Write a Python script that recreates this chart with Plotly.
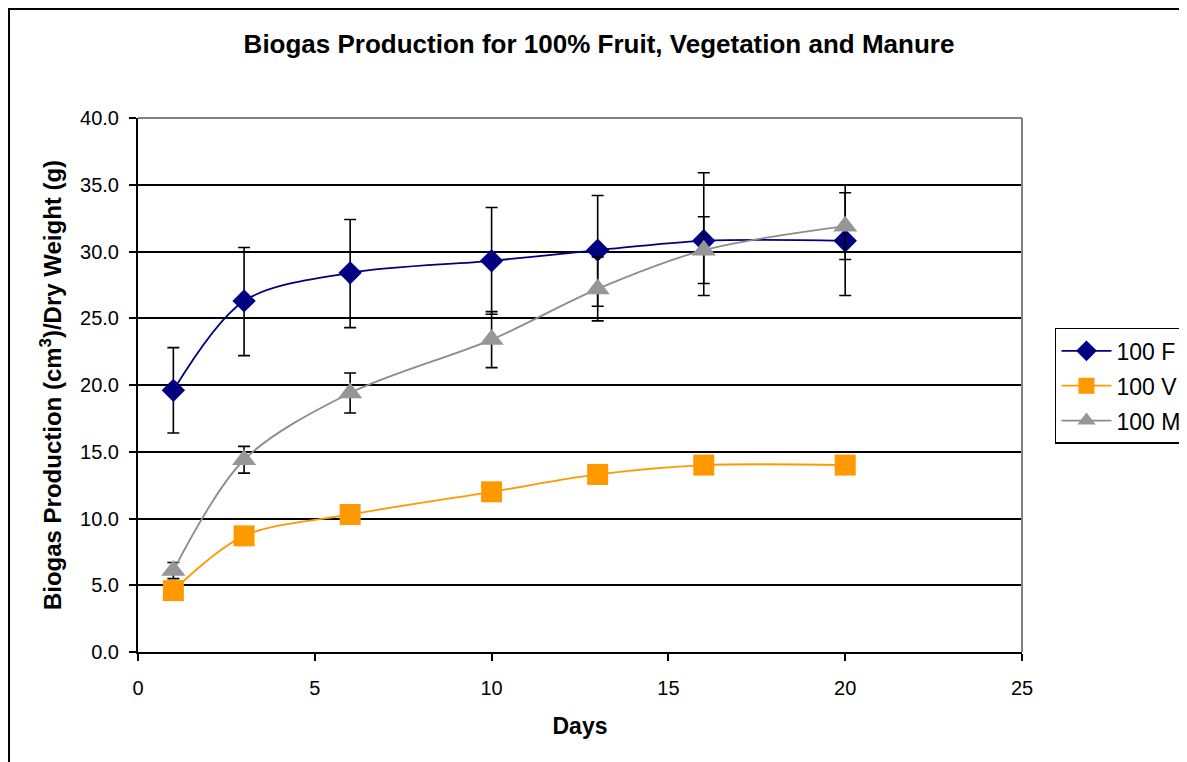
import plotly.graph_objects as go

days = [1, 3, 6, 10, 13, 16, 20]

f_vals = [19.6, 26.3, 28.4, 29.3, 30.1, 30.8, 30.8]
f_err_plus = [3.2, 4.0, 4.0, 4.0, 4.1, 5.1, 4.2]
f_err_minus = [3.2, 4.1, 4.1, 4.0, 4.2, 4.1, 4.1]

v_vals = [4.6, 8.7, 10.3, 12.0, 13.3, 14.0, 14.0]

m_vals = [6.1, 14.4, 19.4, 23.4, 27.2, 30.1, 31.9]
m_err = [0.6, 1.0, 1.5, 2.1, 2.4, 2.5, 2.5]

series_names = ["100 F", "100 V", "100 M"]

FONT = "Liberation Sans, Arial, sans-serif"

fig = go.Figure()

fig.add_trace(go.Scatter(
    x=days, y=f_vals, name=series_names[0], mode="lines+markers",
    line=dict(color="#000080", width=1.8, shape="spline", smoothing=0.9),
    marker=dict(symbol="diamond", size=18, color="#000080"),
    error_y=dict(type="data", symmetric=False, array=f_err_plus, arrayminus=f_err_minus,
                 color="black", thickness=1.6, width=6),
    legendgroup="f",
))
fig.add_trace(go.Scatter(
    x=days, y=v_vals, name=series_names[1], mode="lines+markers",
    line=dict(color="#FF9900", width=1.8, shape="spline", smoothing=0.9),
    marker=dict(symbol="square", size=21, color="#FF9900"),
    legendgroup="v",
))
fig.add_trace(go.Scatter(
    x=days, y=m_vals, name=series_names[2], mode="lines+markers",
    line=dict(color="#8C8C8C", width=1.8, shape="spline", smoothing=0.9),
    marker=dict(symbol="triangle-up", size=21, color="#969696"),
    error_y=dict(type="data", array=m_err, color="black", thickness=1.6, width=6),
    legendgroup="m",
))

# outer chart border and plot area border (top/right gray)
fig.add_shape(type="rect", xref="paper", yref="paper",
              x0=-0.1459, x1=1.25, y0=-0.4, y1=1.2041,
              line=dict(color="black", width=2), layer="below")
fig.add_shape(type="line", xref="paper", yref="paper", x0=0, x1=1, y0=1, y1=1,
              line=dict(color="#808080", width=2), layer="above")
fig.add_shape(type="line", xref="paper", yref="paper", x0=1, x1=1, y0=0, y1=1,
              line=dict(color="#808080", width=2), layer="above")

fig.update_layout(
    width=1187, height=762,
    margin=dict(l=130, r=173, t=110, b=118, autoexpand=False),
    paper_bgcolor="white", plot_bgcolor="white",
    font=dict(family=FONT, color="black", size=20),
    title=dict(text="<b>Biogas Production for 100% Fruit, Vegetation and Manure</b>",
               x=0.4979, xref="container", xanchor="center",
               y=0.9528, yref="container", yanchor="middle",
               font=dict(size=26, family=FONT, color="black")),
    legend=dict(x=1.0373, y=0.607, xanchor="left", yanchor="top",
                bordercolor="black", borderwidth=1.5, bgcolor="white",
                font=dict(size=23, family=FONT), itemwidth=50,
                traceorder="grouped", tracegroupgap=2),
    showlegend=True,
)

fig.update_xaxes(
    range=[0, 25], tickvals=[0, 5, 10, 15, 20, 25],
    showgrid=False, zeroline=False,
    showline=True, linecolor="black", linewidth=2,
    ticks="outside", ticklen=7, tickcolor="black", tickwidth=2,
    tickfont=dict(size=20, family=FONT), ticklabelstandoff=10,
    title=dict(text="<b>Days</b>", font=dict(size=23, family=FONT), standoff=20),
)
fig.update_yaxes(
    range=[0, 40], tickvals=[0, 5, 10, 15, 20, 25, 30, 35, 40], tickformat=".1f",
    showgrid=True, gridcolor="black", gridwidth=1.8, zeroline=False,
    showline=True, linecolor="black", linewidth=2,
    ticks="outside", ticklen=7, tickcolor="black", tickwidth=2,
    tickfont=dict(size=20, family=FONT), ticklabelstandoff=6,
    title=dict(text="<b>Biogas Production (cm<sup>3</sup>)/Dry Weight (g)</b>",
               font=dict(size=24, family=FONT), standoff=12),
)

fig.write_html("out.html")
